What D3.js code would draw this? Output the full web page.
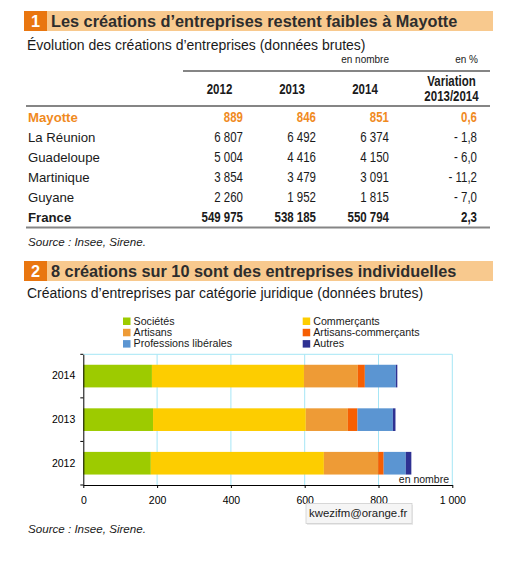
<!DOCTYPE html>
<html>
<head>
<meta charset="utf-8">
<script src="https://cdn.jsdelivr.net/npm/d3@7"></script>
<style>
html,body{margin:0;padding:0;background:#fff;}
svg{display:block;font-family:"Liberation Sans",Arial,Helvetica,sans-serif;}
</style>
</head>
<body>
<svg id="chart" width="517" height="570"></svg>
<script>
// ---------- Table 1 data ----------
const title1 = "Les créations d’entreprises restent faibles à Mayotte";
const subtitle1 = "Évolution des créations d’entreprises (données brutes)";
const regions = ["Mayotte", "La Réunion", "Guadeloupe", "Martinique", "Guyane", "France"];
const values2012 = [889, 6807, 5004, 3854, 2260, 549975];
const values2013 = [846, 6492, 4416, 3479, 1952, 538185];
const values2014 = [851, 6374, 4150, 3091, 1815, 550794];
const variation = [0.6, -1.8, -6.0, -11.2, -7.0, 2.3];
const yearHeaders = ["2012", "2013", "2014"];

// ---------- Chart 2 data ----------
const title2 = "8 créations sur 10 sont des entreprises individuelles";
const subtitle2 = "Créations d’entreprises par catégorie juridique (données brutes)";
const years = ["2014", "2013", "2012"];
const categories = ["Sociétés", "Commerçants", "Artisans", "Artisans-commerçants", "Professions libérales", "Autres"];
// values in order of years: 2014, 2013, 2012
const societes = [186, 189, 183];
const commercants = [412, 414, 469];
const artisans = [146, 114, 147];
const artisansCommercants = [19, 26, 15];
const professionsLiberales = [84, 96, 60];
const autres = [4, 7, 15];
const xTicks = [0, 200, 400, 600, 800, 1000];
const colors = ["#9dcb00", "#fdcd00", "#ee9b36", "#f65f02", "#5b95d2", "#2e3192"];

const svg = d3.select("#chart");
const fr = d3.formatLocale({decimal: ",", thousands: "\u00a0", grouping: [3], currency: ["", " €"]});
const fmtInt = fr.format(",d");
const fmtVar = v => (v < 0 ? "- " : "") + fr.format(".1f")(Math.abs(v));

function sectionHeader(y, num, text) {
  const g = svg.append("g");
  g.append("rect").attr("x", 24).attr("y", y).attr("width", 469).attr("height", 20).attr("fill", "#f8c98e");
  g.append("rect").attr("x", 24).attr("y", y).attr("width", 23).attr("height", 20).attr("fill", "#e9760f");
  g.append("text").attr("x", 35.5).attr("y", y + 15.5).attr("text-anchor", "middle")
    .attr("font-size", 16.3).attr("font-weight", "bold").attr("fill", "#fff").text(num);
  g.append("text").attr("x", 51).attr("y", y + 15.5)
    .attr("font-size", 16.3).attr("font-weight", "bold").attr("fill", "#2d2d2d").text(text);
}

// ---------- Section 1 ----------
sectionHeader(11, "1", title1);
svg.append("text").attr("x", 27).attr("y", 50).attr("font-size", 14).attr("fill", "#1a1a1a").text(subtitle1);

const colRight = [243, 316, 389, 477];
const colCenter = [219.5, 292, 365, 451.5];
svg.append("text").attr("x", 389).attr("y", 63).attr("text-anchor", "end").attr("font-size", 10).attr("fill", "#1a1a1a").text("en nombre");
svg.append("text").attr("x", 478).attr("y", 63).attr("text-anchor", "end").attr("font-size", 10).attr("fill", "#1a1a1a").text("en %");
svg.append("line").attr("x1", 183).attr("x2", 490).attr("y1", 71).attr("y2", 71).attr("stroke", "#858585").attr("stroke-width", 2);

svg.selectAll("text.yh").data(yearHeaders).enter().append("text").attr("class", "yh narrow")
  .attr("x", (d, i) => colCenter[i]).attr("y", 94).attr("text-anchor", "middle")
  .attr("font-size", 14).attr("font-weight", "bold").attr("fill", "#1a1a1a").text(d => d);
svg.append("text").attr("class", "narrow").attr("x", colCenter[3]).attr("y", 86).attr("text-anchor", "middle")
  .attr("font-size", 14).attr("font-weight", "bold").attr("fill", "#1a1a1a").text("Variation");
svg.append("text").attr("class", "narrow").attr("x", colCenter[3]).attr("y", 101).attr("text-anchor", "middle")
  .attr("font-size", 14).attr("font-weight", "bold").attr("fill", "#1a1a1a").text("2013/2014");
svg.append("line").attr("x1", 26).attr("x2", 490).attr("y1", 106).attr("y2", 106).attr("stroke", "#858585").attr("stroke-width", 2);

const rowY = d3.scalePoint().domain(regions).range([121.7, 222.2]);
const rows = svg.selectAll("g.row").data(regions).enter().append("g").attr("class", "row")
  .attr("transform", d => `translate(0,${rowY(d)})`);
rows.each(function (d, i) {
  const g = d3.select(this);
  const color = i === 0 ? "#f08a1e" : "#1a1a1a";
  const weight = (i === 0 || i === regions.length - 1) ? "bold" : "normal";
  g.append("text").attr("x", 28).attr("font-size", 13.2).attr("font-weight", weight).attr("fill", color).text(d);
  const cells = [fmtInt(values2012[i]), fmtInt(values2013[i]), fmtInt(values2014[i]), fmtVar(variation[i])];
  cells.forEach((c, j) => {
    g.append("text").attr("class", "narrow").attr("x", colRight[j]).attr("text-anchor", "end")
      .attr("font-size", 14).attr("font-weight", weight).attr("fill", color).text(c);
  });
});
svg.append("line").attr("x1", 26).attr("x2", 490).attr("y1", 227.5).attr("y2", 227.5).attr("stroke", "#858585").attr("stroke-width", 2);
svg.append("text").attr("x", 28).attr("y", 245.7).attr("font-size", 11.6).attr("font-style", "italic").attr("fill", "#1a1a1a").text("Source : Insee, Sirene.");

// condensed look for the numeric table cells (narrow font emulation)
svg.selectAll("text.narrow").each(function () {
  const w = this.getComputedTextLength();
  d3.select(this).attr("textLength", (w * 0.82).toFixed(2)).attr("lengthAdjust", "spacingAndGlyphs");
});

// ---------- Section 2 ----------
sectionHeader(261, "2", title2);
svg.append("text").attr("x", 27).attr("y", 298.3).attr("font-size", 14).attr("fill", "#1a1a1a").text(subtitle2);

// legend
const legX = [123, 302.7];
const legY = [317.5, 328.8, 340.1];
const leg = svg.selectAll("g.leg").data(categories).enter().append("g").attr("class", "leg")
  .attr("transform", (d, i) => `translate(${legX[i % 2]},${legY[Math.floor(i / 2)]})`);
leg.append("rect").attr("width", 7.5).attr("height", 7.5).attr("fill", (d, i) => colors[i]);
leg.append("text").attr("x", 10.5).attr("y", 7.3).attr("font-size", 10.7).attr("fill", "#1a1a1a").text(d => d);

// scales
const x = d3.scaleLinear().domain([0, 1000]).range([83.3, 452.3]);
const y = d3.scaleBand().domain(years).range([354.3, 485]).paddingInner(0.48).paddingOuter(0.24);

// grid
svg.append("g").selectAll("line").data(xTicks.slice(1)).enter().append("line")
  .attr("x1", d => x(d)).attr("x2", d => x(d)).attr("y1", 354.3).attr("y2", 485)
  .attr("stroke", "#a6e6f6").attr("stroke-width", 1);
svg.append("line").attr("x1", x(0)).attr("x2", x(1000)).attr("y1", 354.3).attr("y2", 354.3)
  .attr("stroke", "#a6e6f6").attr("stroke-width", 1);

// stacked bars
const seriesArrays = [societes, commercants, artisans, artisansCommercants, professionsLiberales, autres];
const table = years.map((yr, i) => {
  const o = {year: yr};
  categories.forEach((c, k) => { o[c] = seriesArrays[k][i]; });
  return o;
});
const stacked = d3.stack().keys(categories)(table);
svg.append("g").selectAll("g").data(stacked).enter().append("g")
  .attr("fill", (d, i) => colors[i])
  .selectAll("rect").data(d => d).enter().append("rect")
  .attr("x", d => x(d[0])).attr("width", d => x(d[1]) - x(d[0]))
  .attr("y", d => y(d.data.year)).attr("height", y.bandwidth());

// x axis
const xAxis = svg.append("g").attr("transform", "translate(0,485)")
  .call(d3.axisBottom(x).tickValues(xTicks).tickSize(3).tickSizeOuter(0).tickPadding(9).tickFormat(fmtInt));
xAxis.select(".domain").attr("stroke", "#000");
xAxis.selectAll(".tick line").attr("stroke", "#000");
xAxis.selectAll("text").attr("font-size", 10.5).attr("fill", "#000").attr("font-family", "Liberation Sans, Arial, sans-serif");

// y axis
const yAxis = svg.append("g").attr("transform", `translate(${x(0)},0)`)
  .call(d3.axisLeft(y).tickSize(0).tickSizeOuter(0).tickPadding(8));
yAxis.select(".domain").attr("stroke", "#000");
yAxis.selectAll("text").attr("font-size", 10.5).attr("fill", "#000").attr("font-family", "Liberation Sans, Arial, sans-serif");
const step = y.step();
const bounds = years.map(d => y(d) - (step - y.bandwidth()) / 2).concat([485]);
bounds[0] = 354.3;
svg.append("g").selectAll("line").data(bounds).enter().append("line")
  .attr("x1", x(0) - 3).attr("x2", x(0)).attr("y1", d => d).attr("y2", d => d).attr("stroke", "#000");

svg.append("text").attr("x", 449).attr("y", 482.7).attr("text-anchor", "end").attr("font-size", 10.5).attr("fill", "#1a1a1a").text("en nombre");

// tooltip-like label
const tip = svg.append("g");
tip.append("rect").attr("x", 307).attr("y", 505).attr("width", 106).attr("height", 20).attr("fill", "#000").attr("opacity", 0.08);
tip.append("rect").attr("x", 306).attr("y", 503.5).attr("width", 106).attr("height", 20)
  .attr("fill", "#f5f5f5").attr("stroke", "#cfcfcf").attr("stroke-width", 0.8);
tip.append("text").attr("x", 309).attr("y", 517).attr("font-size", 11.4).attr("fill", "#1a1a1a").text("kwezifm@orange.fr");

svg.append("text").attr("x", 28).attr("y", 533.3).attr("font-size", 11.6).attr("font-style", "italic").attr("fill", "#1a1a1a").text("Source : Insee, Sirene.");
</script>
</body>
</html>
